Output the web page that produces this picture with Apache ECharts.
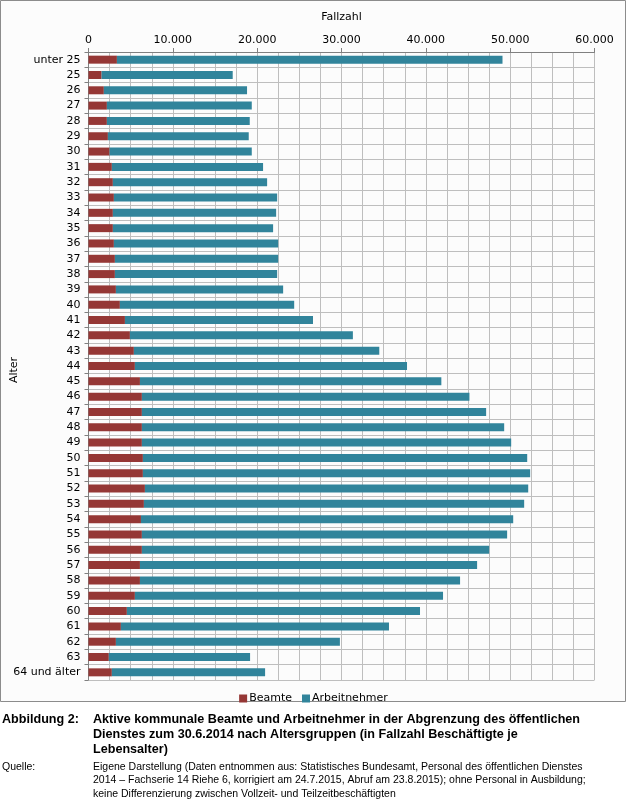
<!DOCTYPE html>
<html>
<head>
<meta charset="utf-8">
<script src="https://cdn.jsdelivr.net/npm/echarts@6/dist/echarts.min.js"></script>
<style>
html,body{margin:0;padding:0;background:#ffffff;}
#chart{width:627px;height:800px;}
</style>
</head>
<body>
<div id="chart"></div>
<script>
const categories = ["unter 25","25","26","27","28","29","30","31","32","33","34","35","36","37","38","39","40","41","42","43","44","45","46","47","48","49","50","51","52","53","54","55","56","57","58","59","60","61","62","63","64 und älter"];
const beamte = [3370,1550,1820,2180,2180,2300,2500,2770,2890,3010,2890,2890,3010,3130,3130,3250,3720,4320,4910,5380,5500,6100,6330,6330,6330,6330,6450,6450,6690,6570,6220,6330,6330,6100,6100,5500,4550,3840,3250,2410,2770];
const arbeitnehmer = [45720,15550,16980,17180,16940,16700,16860,17930,18290,19360,19360,19000,19480,19360,19240,19830,20670,22300,26440,29100,32270,35740,38840,40820,42960,43790,45570,45920,45450,45090,44140,43310,41180,39980,37960,36540,34760,31790,26560,16750,18170];
const seriesNames = ["Beamte","Arbeitnehmer"];
const xAxisTitle = "Fallzahl";
const yAxisTitle = "Alter";
const captionLabel = "Abbildung 2:";
const captionLines = ["Aktive kommunale Beamte und Arbeitnehmer in der Abgrenzung des öffentlichen","Dienstes zum 30.6.2014 nach Altersgruppen (in Fallzahl Beschäftigte je","Lebensalter)"];
const sourceLabel = "Quelle:";
const sourceLines = ["Eigene Darstellung (Daten entnommen aus: Statistisches Bundesamt, Personal des öffentlichen Dienstes","2014 – Fachserie 14 Riehe 6, korrigiert am 24.7.2015, Abruf am 23.8.2015); ohne Personal in Ausbildung;","keine Differenzierung zwischen Vollzeit- und Teilzeitbeschäftigten"];

const FONT = "DejaVu Sans";
const chart = echarts.init(document.getElementById('chart'), null, {renderer:'canvas'});

const graphics = [
  {type:'rect', shape:{x:0.5,y:0.5,width:625,height:701}, style:{fill:'#fcfcfc',stroke:'#8c8c8c',lineWidth:1}, z:-10, silent:true},
  {type:'text', x:14, y:370, rotation:Math.PI/2, style:{text:yAxisTitle, font:"11px 'DejaVu Sans'", fill:'#000', align:'center', verticalAlign:'middle'}},
  {type:'text', x:2, y:720, style:{text:captionLabel, font:"bold 12.6px 'Liberation Sans'", fill:'#000', verticalAlign:'middle'}},
  {type:'text', x:2, y:767, style:{text:sourceLabel, font:"10.5px 'Liberation Sans'", fill:'#000', verticalAlign:'middle'}}
];
captionLines.forEach((t,i)=>graphics.push({type:'text', x:93, y:720+i*15, style:{text:t, font:"bold 12.6px 'Liberation Sans'", fill:'#000', verticalAlign:'middle'}}));
sourceLines.forEach((t,i)=>graphics.push({type:'text', x:93, y:767+i*13.5, style:{text:t, font:"10.5px 'Liberation Sans'", fill:'#000', verticalAlign:'middle'}}));

const fmt = v => v.toLocaleString('de-DE');

chart.setOption({
  animation:false,
  backgroundColor:'transparent',
  textStyle:{fontFamily:FONT},
  graphic:graphics,
  legend:{
    data:seriesNames, top:688, left:'center', itemWidth:8, itemHeight:8, itemGap:10,
    icon:'rect', textStyle:{fontFamily:FONT,fontSize:11,color:'#000',padding:[0,0,0,-3]}
  },
  grid:{left:88.5, right:32.5, top:52, bottom:120, containLabel:false, outerBoundsMode:'none'},
  xAxis:{
    type:'value', position:'top', min:0, max:60000, interval:10000,
    name:xAxisTitle, nameLocation:'middle', nameGap:29,
    nameTextStyle:{fontFamily:FONT,fontSize:11,color:'#000'},
    axisLine:{show:true,lineStyle:{color:'#808080',width:1}},
    axisTick:{show:true,length:4,lineStyle:{color:'#808080'}},
    axisLabel:{fontFamily:FONT,fontSize:11,color:'#000',margin:6,formatter:fmt},
    splitLine:{show:true,lineStyle:{color:'#bebebe',width:1}},
    minorTick:{show:false,splitNumber:4},
    minorSplitLine:{show:true,lineStyle:{color:'#bebebe',width:1}}
  },
  yAxis:{
    type:'category', data:categories, inverse:true,
    axisLine:{show:true,lineStyle:{color:'#808080'}},
    axisTick:{show:true,length:4,lineStyle:{color:'#808080'}},
    axisLabel:{fontFamily:FONT,fontSize:11,color:'#000',margin:8,interval:0},
    splitLine:{show:true,lineStyle:{color:'#bebebe',width:1}}
  },
  series:[
    {name:seriesNames[0], type:'bar', stack:'t', data:beamte, barWidth:8, itemStyle:{color:'#953735'}},
    {name:seriesNames[1], type:'bar', stack:'t', data:arbeitnehmer, barWidth:8, itemStyle:{color:'#31849b'}}
  ]
});
</script>
</body>
</html>
